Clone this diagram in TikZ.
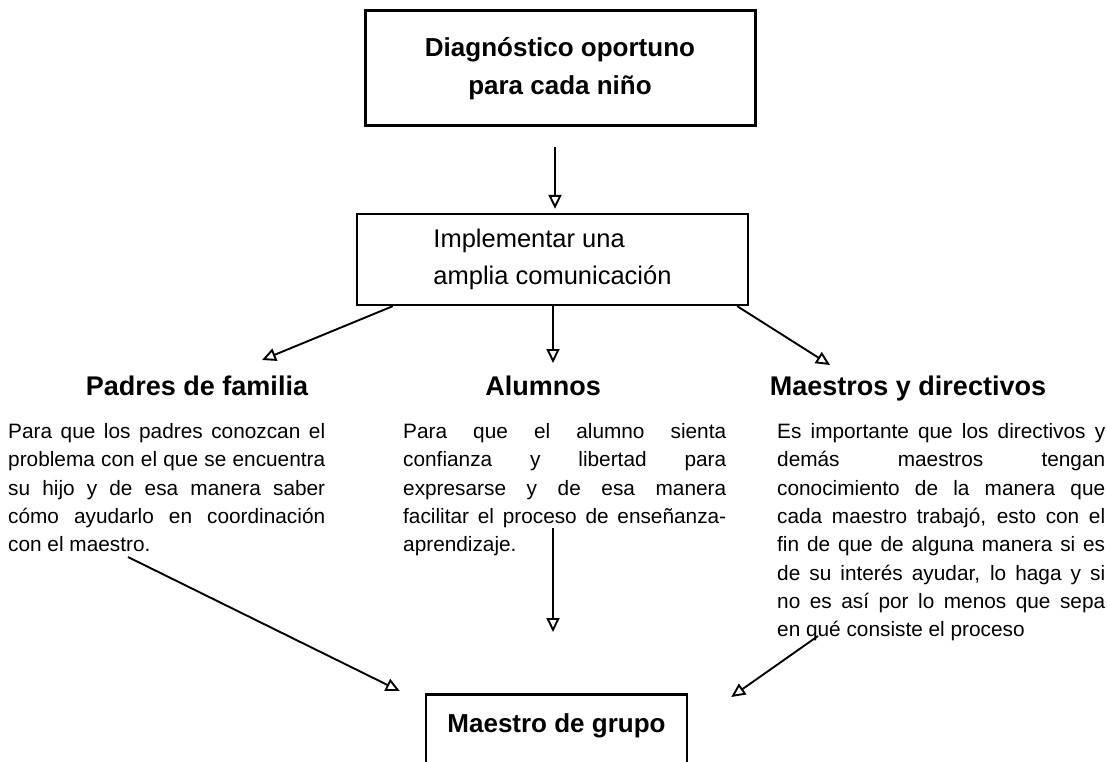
\documentclass[tikz,border=0pt]{standalone}
\usepackage{fontspec}
\setmainfont{Liberation Sans}
\usetikzlibrary{arrows.meta}
\begin{document}
\begin{tikzpicture}[x=1pt,y=-1pt,
  boxst/.style={draw, line width=2.6pt, inner sep=0pt},
  arr/.style={line width=1.9pt, -{Triangle[open,length=14pt,width=13pt,line width=1.9pt]}},
  head/.style={font=\fontsize{27}{32}\selectfont\bfseries, inner sep=0pt, anchor=base},
  body/.style={inner sep=0pt, anchor=base west, font=\fontsize{20.8}{28.3}\selectfont}]
\useasboundingbox (0,0) rectangle (1107,762);
\clip (0,0) rectangle (1107,762);

\node[boxst, line width=3pt, align=center, minimum width=390pt, minimum height=115pt,
      font=\fontsize{26}{38}\selectfont\bfseries] (top) at (560,68.5)
  {Diagnóstico oportuno\\para cada niño};

\node[boxst, line width=2.3pt, align=left, minimum width=391pt, minimum height=91pt,
      font=\fontsize{25.5}{37}\selectfont] (impl) at (552.5,259.5)
  {Implementar una\\amplia comunicación};

\node[head] (padres) at (197,395) {Padres de familia};
\node[head] (alumnos) at (543,395) {Alumnos};
\node[head] (maestros) at (908,395) {Maestros y directivos};

\node[body] (tp) at (8,438.5) {\parbox[t]{317pt}{Para que los padres conozcan el\linebreak
problema con el que se encuentra\linebreak
su hijo y de esa manera saber\linebreak
cómo ayudarlo en coordinación\linebreak
con el maestro.}};

\node[body] (ta) at (403,438.5) {\parbox[t]{323pt}{Para que el alumno sienta\linebreak
confianza y libertad para\linebreak
expresarse y de esa manera\linebreak
facilitar el proceso de enseñanza-\linebreak
aprendizaje.}};

\node[body] (tm) at (777,438.5) {\parbox[t]{328pt}{Es importante que los directivos y\linebreak
demás maestros tengan\linebreak
conocimiento de la manera que\linebreak
cada maestro trabajó, esto con el\linebreak
fin de que de alguna manera si es\linebreak
de su interés ayudar, lo haga y si\linebreak
no es así por lo menos que sepa\linebreak
en qué consiste el proceso}};

\node[boxst, line width=2.5pt, anchor=north, minimum width=261pt, text height=38pt, text depth=60pt,
      font=\fontsize{26}{30}\selectfont\bfseries] (gm) at (556.5,693) {Maestro de grupo};

% connectors
\draw[arr, shorten <=20pt, shorten >=4pt] ([xshift=-5pt]top.south) -- ([xshift=2.5pt]impl.north);
\draw[arr] ([xshift=37pt]impl.south west) -- ([xshift=65pt,yshift=35pt]padres.base);
\draw[arr] ([xshift=0.5pt]impl.south) -- ([xshift=10pt,yshift=32pt]alumnos.base);
\draw[arr] ([xshift=-12pt]impl.south east) -- ([xshift=-78pt,yshift=30pt]maestros.base);

\coordinate (ps) at (128,557);
\coordinate (as) at (553,528);
\coordinate (ms) at (818,636);
\draw[arr] (ps) -- ([xshift=-25pt,yshift=2pt]gm.north west);
\draw[arr] (as) -- ([xshift=-3.5pt,yshift=61pt]gm.north);
\draw[arr] (ms) -- ([xshift=43pt,yshift=-4pt]gm.north east);
\end{tikzpicture}
\end{document}
